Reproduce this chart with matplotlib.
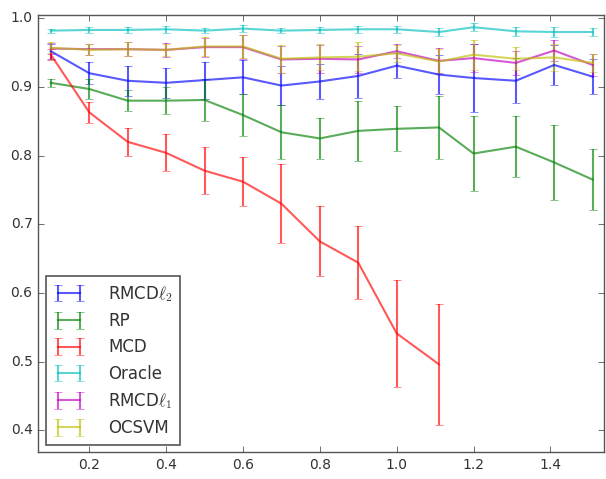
import matplotlib
matplotlib.use('Agg')
import matplotlib.pyplot as plt

plt.style.use('classic')

# p / n values
x = [0.1, 0.2, 0.3, 0.4, 0.5, 0.6, 0.7, 0.8, 0.9, 1.0, 1.11, 1.2, 1.31, 1.41, 1.51]

rmcd_l2 = [0.952, 0.920, 0.909, 0.906, 0.910, 0.914, 0.902, 0.908, 0.916, 0.931, 0.918, 0.913, 0.909, 0.932, 0.915]
rmcd_l2_err = [0.011, 0.016, 0.022, 0.022, 0.027, 0.025, 0.029, 0.025, 0.032, 0.018, 0.029, 0.050, 0.033, 0.029, 0.025]

rp = [0.906, 0.897, 0.880, 0.880, 0.881, 0.859, 0.834, 0.825, 0.836, 0.839, 0.841, 0.803, 0.813, 0.790, 0.765]
rp_err = [0.006, 0.015, 0.015, 0.020, 0.030, 0.030, 0.039, 0.030, 0.044, 0.033, 0.046, 0.054, 0.044, 0.055, 0.044]

mcd_x = x[:11]
mcd = [0.947, 0.863, 0.820, 0.804, 0.778, 0.762, 0.730, 0.675, 0.644, 0.541, 0.496]
mcd_err = [0.008, 0.015, 0.020, 0.027, 0.034, 0.036, 0.058, 0.051, 0.053, 0.078, 0.088]

oracle = [0.982, 0.983, 0.983, 0.984, 0.982, 0.985, 0.982, 0.983, 0.984, 0.984, 0.980, 0.987, 0.981, 0.980, 0.980]
oracle_err = [0.003, 0.004, 0.004, 0.005, 0.004, 0.005, 0.004, 0.005, 0.005, 0.005, 0.006, 0.006, 0.007, 0.007, 0.006]

rmcd_l1 = [0.956, 0.955, 0.955, 0.954, 0.958, 0.958, 0.940, 0.941, 0.940, 0.952, 0.938, 0.942, 0.935, 0.953, 0.932]
rmcd_l1_err = [0.008, 0.008, 0.010, 0.010, 0.014, 0.017, 0.020, 0.020, 0.020, 0.010, 0.018, 0.020, 0.018, 0.015, 0.016]

ocsvm = [0.957, 0.954, 0.955, 0.954, 0.959, 0.959, 0.941, 0.943, 0.944, 0.949, 0.937, 0.947, 0.941, 0.943, 0.935]
ocsvm_err = [0.008, 0.008, 0.010, 0.009, 0.014, 0.017, 0.020, 0.019, 0.021, 0.012, 0.018, 0.022, 0.017, 0.020, 0.013]

series = [
    (x, rmcd_l2, rmcd_l2_err, 'b', r'RMCD$\ell_2$'),
    (x, rp, rp_err, 'g', 'RP'),
    (mcd_x, mcd, mcd_err, 'r', 'MCD'),
    (x, oracle, oracle_err, 'c', 'Oracle'),
    (x, rmcd_l1, rmcd_l1_err, 'm', r'RMCD$\ell_1$'),
    (x, ocsvm, ocsvm_err, 'y', 'OCSVM'),
]

fig = plt.figure(figsize=(6.06, 4.79), dpi=100, facecolor='white')
ax = fig.add_axes([0.063, 0.056, 0.934, 0.913])
ax.set_facecolor('white')

for xs, ys, es, c, lab in series:
    ax.errorbar(xs, ys, yerr=es, color=c, ecolor=c, alpha=0.65, lw=1.5,
                capsize=3, label=lab)

ax.set_xlim(0.067, 1.54)
ax.set_ylim(0.368, 1.005)
ax.set_xticks([0.2, 0.4, 0.6, 0.8, 1.0, 1.2, 1.4])
ax.set_yticks([0.4, 0.5, 0.6, 0.7, 0.8, 0.9, 1.0])
ax.tick_params(labelsize=10, colors='#333333')
for sp in ax.spines.values():
    sp.set_color('#555555')
ax.set_xlabel('p / n', fontsize=11, color='#333333', labelpad=6)
ax.set_ylabel('AUC', fontsize=11, color='#333333', labelpad=6)

leg = ax.legend(loc='lower left', fontsize=12, numpoints=2, borderaxespad=0.45,
                labelspacing=0.5, handlelength=1.9, handletextpad=1.4,
                borderpad=0.45)
leg.get_frame().set_edgecolor('#555555')
leg.get_frame().set_linewidth(1.2)
for t in leg.get_texts():
    t.set_color('#333333')

fig.savefig('out.png', dpi=100, facecolor='white')
